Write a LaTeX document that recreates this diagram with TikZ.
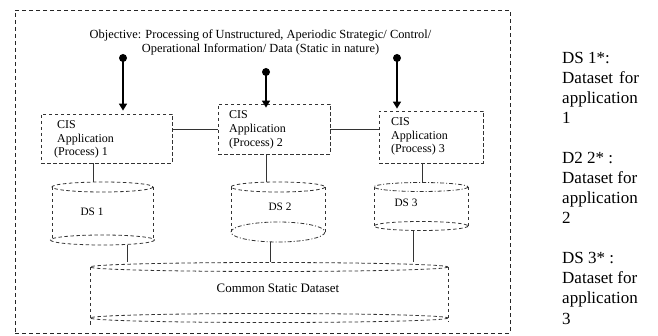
\documentclass[tikz,border=0pt]{standalone}
\usepackage{fontspec}
\setmainfont{Liberation Serif}
\usetikzlibrary{arrows.meta,calc}
\begin{document}
\begin{tikzpicture}[x=1pt,y=-1pt,
  dsh/.style={draw=black!80, dash pattern=on 3.5pt off 2.5pt, line width=0.8pt},
  dashdot/.style={draw=black!80, dash pattern=on 4pt off 2pt on 1pt off 2pt, line width=0.8pt},
  frame/.style={draw=black!85, dash pattern=on 4pt off 3pt, line width=0.8pt},
  appbox/.style={dsh, inner sep=0pt},
  conn/.style={draw=black!80, line width=0.8pt},
  feed/.style={draw=black, line width=1.6pt, -{Triangle[length=7pt,width=8pt]}},
  feeddot/.style={circle, fill=black, inner sep=0pt, minimum size=8pt},
  boxtext/.style={font=\fontsize{12}{13.8}\selectfont, align=left, anchor=west, inner sep=0pt},
  dslabel/.style={font=\fontsize{11.3}{13}\selectfont, inner sep=0pt},
  note/.style={font=\fontsize{17}{20}\selectfont, anchor=base west, inner sep=0pt}
]
\useasboundingbox (0,0) rectangle (658,336);

% outer frame
\node[frame, inner sep=0pt, minimum width=495pt, minimum height=323pt] (outer) at (262.5,171.5) {};

% title
\node[font=\fontsize{12.4}{14}\selectfont, align=center, inner sep=0pt] (title) at (260.5,42)
  {Objective: Processing of Unstructured, Aperiodic Strategic/ Control/\\Operational Information/ Data (Static in nature)};

% application boxes
\node[appbox, minimum width=131pt, minimum height=49pt] (box1) at (106.5,138.5) {};
\node[appbox, minimum width=112pt, minimum height=50pt] (box2) at (274,129) {};
\node[appbox, minimum width=104pt, minimum height=52pt] (box3) at (431,137) {};
\node[boxtext] (t1) at (54,139.5) {\hspace*{3pt}CIS\\\hspace*{3pt}Application\\(Process) 1};
\node[boxtext] (t2) at (229,130) {CIS\\Application\\(Process) 2};
\node[boxtext] (t3) at (391,136.5) {CIS\\Application\\(Process) 3};

% feeding arrows
\node[feeddot] (d1) at (123,58) {};
\node[feeddot] (d2) at (266,72) {};
\node[feeddot] (d3) at (397,58) {};
\draw[feed, shorten >=3pt] (d1.center) -- (d1 |- box1.north);
\draw[feed, shorten >=-4pt] (d2.center) -- (d2 |- box2.north);
\draw[feed, shorten >=2pt] (d3.center) -- (d3 |- box3.north);

% links between boxes
\draw[conn] (box1.north east |- box2.west) -- (box2.west);
\draw[conn] (box2.east) -- (box2.east -| box3.west);

% DS 1 cylinder
\draw[dsh] (102.5,187) ellipse [x radius=50.5, y radius=5];
\draw[dsh] (52,187) -- (52,240) (153,187) -- (153,240);
\draw[dsh] (102.5,240) ellipse [x radius=52, y radius=5];
\node[dslabel] (ds1) at (92,212) {DS 1};

% DS 2 cylinder
\draw[dsh] (278,187) ellipse [x radius=47, y radius=5];
\draw[dsh] (231,187) -- (231,232) (325,187) -- (325,232);
\draw[dashdot] (278,232) ellipse [x radius=47, y radius=10];
\node[dslabel] (ds2) at (280,207) {DS 2};

% DS 3 cylinder
\draw[dashdot] (421,187) ellipse [x radius=47, y radius=4.5];
\draw[dsh] (374,187) -- (374,226) (468,187) -- (468,226);
\draw[dsh] (421,226) ellipse [x radius=47, y radius=4.5];
\node[dslabel] (ds3) at (406,203) {DS 3};

% common cylinder
\draw[dsh] (269,267) ellipse [x radius=179, y radius=4.5];
\draw[dsh] (90,267) -- (90,325) (448,267) -- (448,322);
\draw[dsh] (269,318) ellipse [x radius=179, y radius=4.5];
\node[font=\fontsize{12.9}{14}\selectfont, inner sep=0pt] (common) at (278,288) {Common Static Dataset};

% connector anchor points
\coordinate (c1top) at (93,182);
\coordinate (c2top) at (266,182);
\coordinate (c3top) at (422,182.5);
\coordinate (c1bot) at (127,245);
\coordinate (c2bot) at (270,242);
\coordinate (c3bot) at (413,230.5);
\coordinate (cc1) at (127,262.5);
\coordinate (cc2) at (270,262.5);
\coordinate (cc3) at (413,262.5);

\draw[conn] (c1top |- box1.south) -- (c1top);
\draw[conn] (c2top |- box2.south) -- (c2top);
\draw[conn] (c3top |- box3.south) -- (c3top);
\draw[conn] (c1bot) -- (cc1);
\draw[conn] (c2bot) -- (cc2);
\draw[conn] (c3bot) -- (cc3);

% legend
\node[note] (n1a) at (562,64) {DS 1*:};
\node[note] (n1b) at (562,84) {Dataset\hspace{0.35em}for};
\node[note] (n1c) at (562,104) {application};
\node[note] (n1d) at (562,124) {1};
\node[note] (n2a) at (562,164) {D2 2* :};
\node[note] (n2b) at (562,184) {Dataset for};
\node[note] (n2c) at (562,204) {application};
\node[note] (n2d) at (562,224) {2};
\node[note] (n3a) at (562,264) {DS 3* :};
\node[note] (n3b) at (562,284) {Dataset for};
\node[note] (n3c) at (562,304) {application};
\node[note] (n3d) at (562,324) {3};
\end{tikzpicture}
\end{document}
